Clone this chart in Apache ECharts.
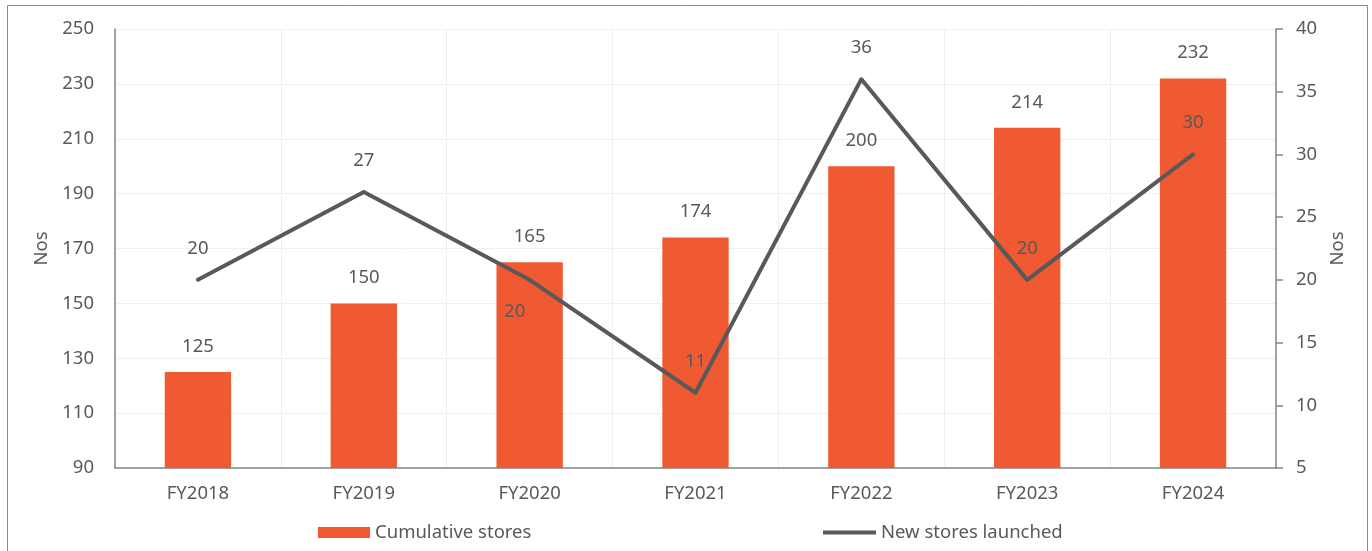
<!DOCTYPE html>
<html>
<head>
<meta charset="utf-8">
<style>
  html, body { margin: 0; padding: 0; background: #ffffff; }
  #chart { width: 1372px; height: 551px; }
</style>
<script src="https://cdn.jsdelivr.net/npm/echarts@6/dist/echarts.min.js"></script>
</head>
<body>
<div id="chart"></div>
<script>
// Fiscal years on the category axis
const categories = ['FY2018', 'FY2019', 'FY2020', 'FY2021', 'FY2022', 'FY2023', 'FY2024'];
// Cumulative store count (left axis)
const cumulativeStores = [125, 150, 165, 174, 200, 214, 232];
// Stores opened during each year (right axis)
const newStores = [20, 27, 20, 11, 36, 20, 30];

const FONT = '"Noto Sans", sans-serif';
const FS = 18.5;
const TEXT = '#595959';
const BAR = '#F05A32';
const LINE = '#595959';

const chart = echarts.init(document.getElementById('chart'), null, { renderer: 'canvas' });

// Line labels sit above each point, except FY2020 which is placed below-left
const lineData = newStores.map((v, i) => {
  if (i === 2) {
    return { value: v, label: { position: 'bottom', distance: 20, offset: [-15, 0] } };
  }
  return v;
});

chart.setOption({
  animation: false,
  textStyle: { fontFamily: FONT },
  graphic: [{
    type: 'rect',
    shape: { x: 7.5, y: 5.5, width: 1360, height: 620 },
    style: { fill: 'none', stroke: '#8a8a8a', lineWidth: 1 },
    silent: true, z: -10
  }],
  grid: { left: 115, right: 96, top: 29, bottom: 83, containLabel: false },
  legend: [{
    left: 313, top: 518,
    itemWidth: 52, itemHeight: 11, itemGap: 6,
    data: [{ name: 'Cumulative stores', icon: 'rect' }],
    textStyle: { color: TEXT, fontSize: FS, fontFamily: FONT }
  }, {
    left: 818, top: 518,
    itemWidth: 53, itemHeight: 11,
    data: [{
      name: 'New stores launched',
      icon: 'path://M0,4 H53 V8 H0 Z',
      itemStyle: { color: LINE, opacity: 1, borderWidth: 0 }
    }],
    textStyle: { color: TEXT, fontSize: FS, fontFamily: FONT }
  }],
  xAxis: {
    type: 'category',
    data: categories,
    boundaryGap: true,
    axisLine: { lineStyle: { color: '#868686', width: 1.5 } },
    axisTick: { show: false },
    axisLabel: { color: TEXT, fontSize: FS, margin: 16, fontFamily: FONT },
    splitLine: { show: true, lineStyle: { color: '#efefef', width: 1 } }
  },
  yAxis: [{
    type: 'value',
    min: 90, max: 250, interval: 20,
    name: 'Nos',
    nameLocation: 'middle',
    nameGap: 63,
    nameRotate: 90,
    nameTextStyle: { color: TEXT, fontSize: FS, fontFamily: FONT },
    axisLine: { show: true, lineStyle: { color: '#868686', width: 1.5 } },
    axisTick: { show: false },
    axisLabel: { color: TEXT, fontSize: FS, margin: 21, fontFamily: FONT },
    splitLine: { show: true, lineStyle: { color: '#efefef', width: 1 } }
  }, {
    type: 'value',
    min: 5, max: 40, interval: 5,
    position: 'right',
    name: 'Nos',
    nameLocation: 'middle',
    nameGap: 47,
    nameRotate: 90,
    nameTextStyle: { color: TEXT, fontSize: FS, fontFamily: FONT },
    axisLine: { show: true, lineStyle: { color: '#868686', width: 1.5 } },
    axisTick: { show: true, inside: false, length: 7, lineStyle: { color: '#868686', width: 1.5 } },
    axisLabel: { color: TEXT, fontSize: FS, margin: 20, fontFamily: FONT },
    splitLine: { show: false }
  }],
  series: [{
    name: 'Cumulative stores',
    type: 'bar',
    yAxisIndex: 0,
    data: cumulativeStores,
    barWidth: '40%',
    itemStyle: { color: BAR },
    label: {
      show: true, position: 'top', distance: 16,
      color: TEXT, fontSize: FS, fontFamily: FONT
    }
  }, {
    name: 'New stores launched',
    type: 'line',
    yAxisIndex: 1,
    data: lineData,
    symbol: 'circle',
    symbolSize: 4,
    showSymbol: true,
    lineStyle: { color: LINE, width: 4 },
    itemStyle: { color: LINE },
    z: 5,
    label: {
      show: true, position: 'top', distance: 20,
      color: TEXT, fontSize: FS, fontFamily: FONT
    }
  }]
});
</script>
</body>
</html>
